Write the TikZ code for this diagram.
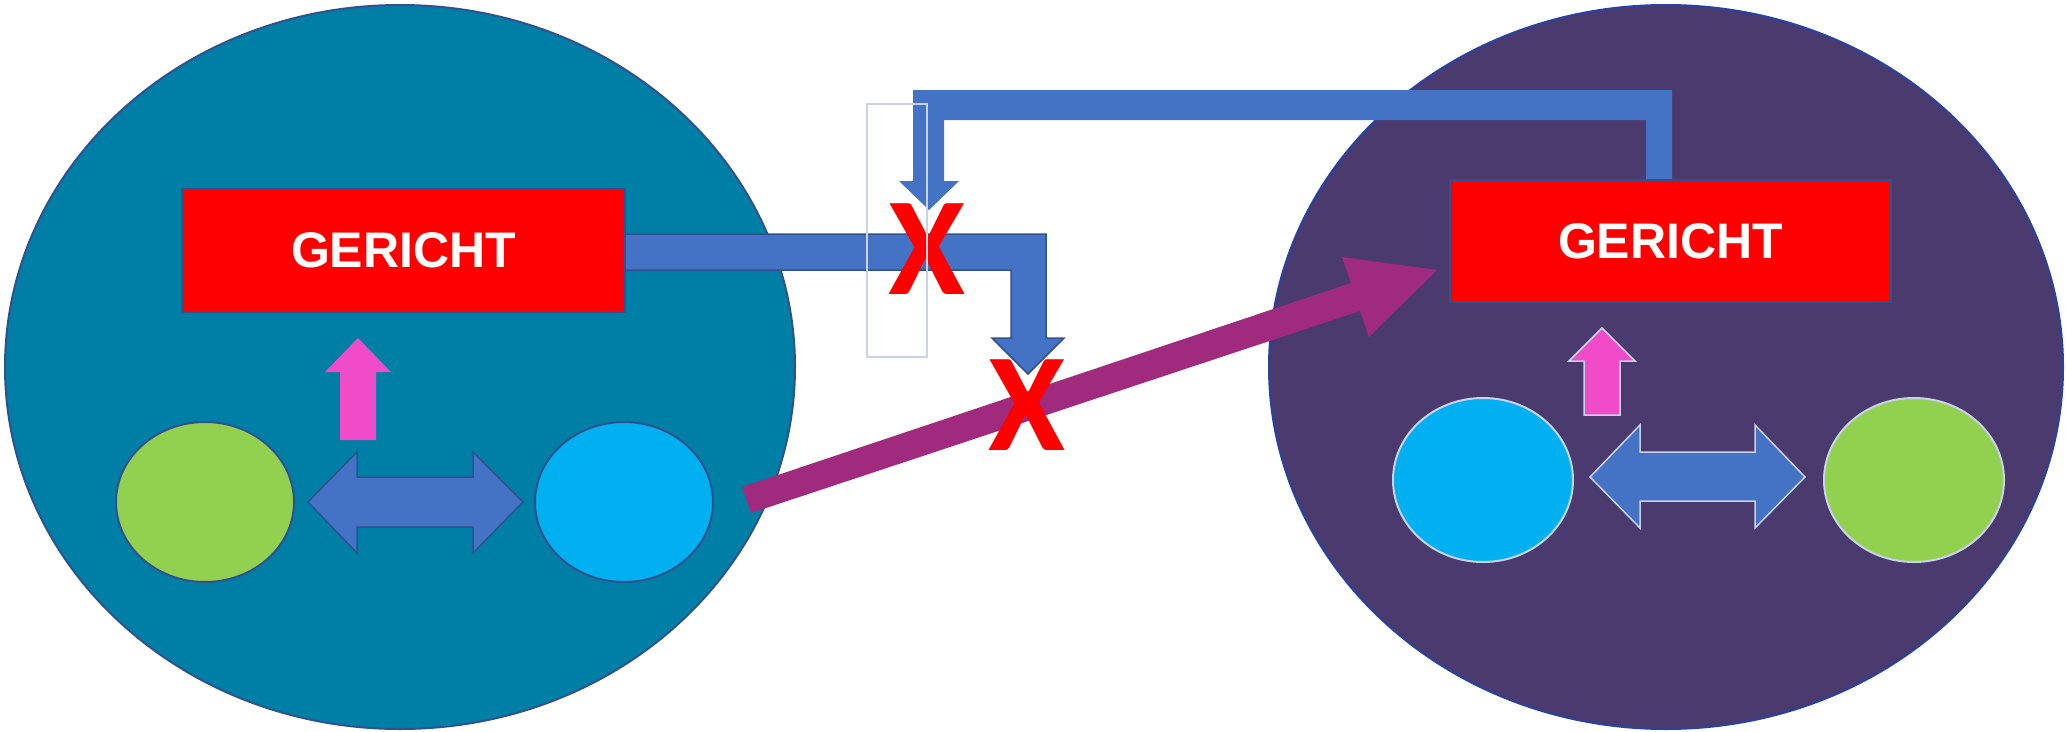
\documentclass[tikz,border=0pt]{standalone}
\usepackage{fontspec}
\setmainfont{Liberation Sans}
\newfontfamily\xfont{Carlito}
\usetikzlibrary{shapes.geometric}
\definecolor{teal1}{RGB}{0,127,166}
\definecolor{plum1}{RGB}{75,58,110}
\definecolor{edge1}{RGB}{47,82,143}
\definecolor{blue1}{RGB}{68,114,196}
\definecolor{green1}{RGB}{146,208,80}
\definecolor{cyan1}{RGB}{0,176,240}
\definecolor{pink1}{RGB}{240,75,200}
\definecolor{purple1}{RGB}{160,42,125}
\definecolor{light1}{RGB}{200,210,234}
\tikzset{
  big/.style={ellipse, draw=edge1, line width=2pt, inner sep=0pt},
  small/.style={ellipse, line width=2pt, inner sep=0pt, minimum width=178pt, minimum height=160pt},
  box/.style={rectangle, fill=red, draw=edge1, line width=2.5pt, inner sep=0pt,
    text=white, font=\bfseries\fontsize{50}{50}\selectfont},
  blockarrow/.style={fill=blue1, draw=edge1, line width=1.5pt, line join=miter},
  xmark/.style={text=red, inner sep=0pt, font=\xfont\bfseries\fontsize{140}{140}\selectfont}
}
\begin{document}
\begin{tikzpicture}[x=1pt,y=-1pt]
\useasboundingbox (0,0) rectangle (2067,731);
% big ellipses
\node[big, fill=teal1, minimum width=790pt, minimum height=724pt] (L) at (400,367) {};
\node[big, fill=plum1, draw=edge1!80!blue, minimum width=794pt, minimum height=724pt] (R) at (1666,367) {};
% small ellipses left
\node[small, fill=green1, draw=edge1] (Lg) at (205,502) {};
\node[small, fill=cyan1, draw=edge1] (Lc) at (624,502) {};
% small ellipses right
\node[small, fill=cyan1, draw=light1, minimum width=180pt, minimum height=164pt] (Rc) at (1483,480) {};
\node[small, fill=green1, draw=light1, minimum width=180pt, minimum height=164pt] (Rg) at (1914,480) {};
% double arrows
\draw[blockarrow] (308,502) -- (357,452) -- (357,477) -- (473,477) -- (473,452) -- (523,502)
  -- (473,553) -- (473,527) -- (357,527) -- (357,553) -- cycle;
\draw[blockarrow, draw=light1] (1590,477) -- (1640,425) -- (1640,452) -- (1755,452) -- (1755,425) -- (1805,477)
  -- (1755,528) -- (1755,501) -- (1640,501) -- (1640,528) -- cycle;
% pink up arrows
\fill[pink1] (358,338) -- (391,372) -- (376,372) -- (376,440) -- (340,440) -- (340,372) -- (325,372) -- cycle;
\draw[fill=pink1, draw=light1, line width=1.5pt] (1602,328) -- (1635,361) -- (1620,361) -- (1620,415) -- (1584,415) -- (1584,361) -- (1569,361) -- cycle;
% top arrow from right box to the left
\fill[blue1] (1672,182) -- (1672,90) -- (913,90) -- (913,181) -- (899,181) -- (929,210) -- (959,181)
  -- (944,181) -- (944,120) -- (1646,120) -- (1646,182) -- cycle;
% arrow from left box
\draw[blockarrow] (625,234) -- (1046,234) -- (1046,338) -- (1064,338) -- (1028,374) -- (992,338)
  -- (1011,338) -- (1011,270) -- (625,270) -- cycle;
% boxes
\node[box, minimum width=443pt, minimum height=123pt] (B1) at (403.5,250.5) {GERICHT};
\node[box, minimum width=441pt, minimum height=122pt] (B2) at (1670.5,241) {GERICHT};
% purple arrow
\fill[purple1] (742,487) -- (1351,283) -- (1342,257) -- (1437,270) -- (1369,337) -- (1360,311) -- (751,513) -- cycle;
% crosses
\node[xmark] (X1) at (927,249) {X};
\node[xmark] (X2) at (1027,405) {X};
% outline rectangle
\draw[light1, line width=1.5pt] (867,104) rectangle (927,357);
\end{tikzpicture}
\end{document}
